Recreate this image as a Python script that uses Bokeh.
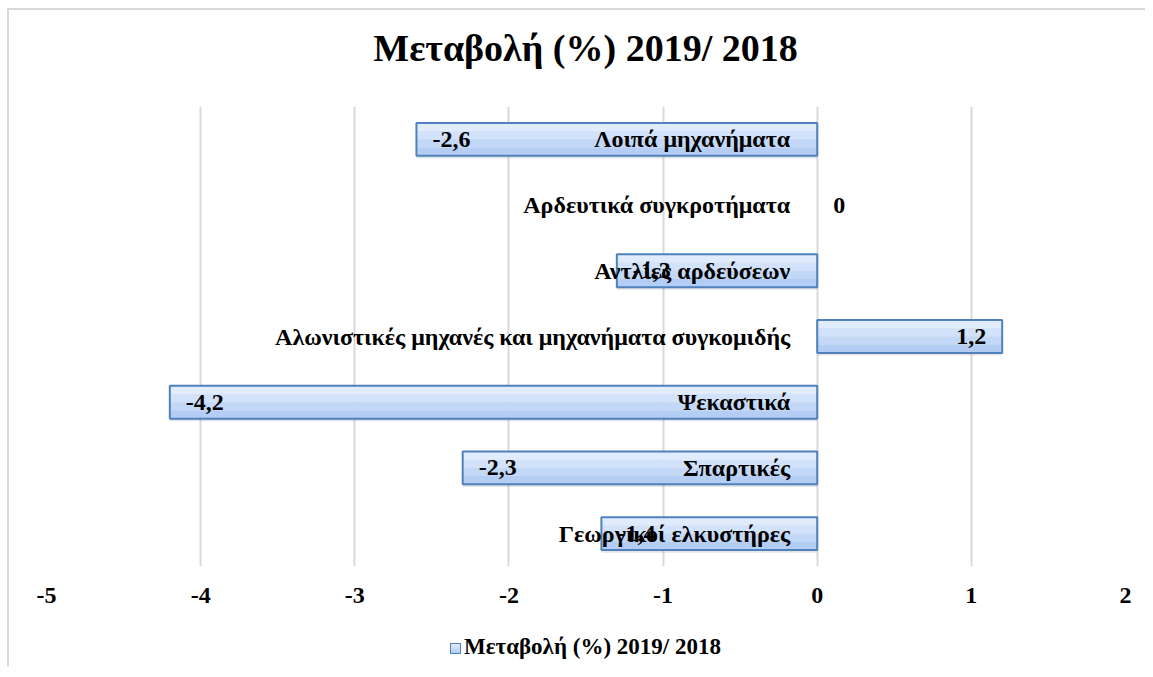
from bokeh.plotting import figure
from bokeh.layouts import column
from bokeh.models import Range1d, FactorRange, ColumnDataSource, FixedTicker, Div
from bokeh.core.properties import value
from bokeh.transform import dodge
from bokeh.embed import file_html
from bokeh.resources import INLINE

categories = ["Γεωργικοί ελκυστήρες", "Σπαρτικές", "Ψεκαστικά",
              "Αλωνιστικές μηχανές και μηχανήματα συγκομιδής",
              "Αντλίες αρδεύσεων", "Αρδευτικά συγκροτήματα", "Λοιπά μηχανήματα"]
values = [-1.4, -2.3, -4.2, 1.2, -1.3, 0.0, -2.6]
x_ticks = [-5, -4, -3, -2, -1, 0, 1, 2]
series_name = "Μεταβολή (%) 2019/ 2018"
title_text = "Μεταβολή (%) 2019/ 2018"

FONT = "Liberation Serif"

labels = [("%.1f" % v).replace(".", ",") if v != 0 else "0" for v in values]
lab_off = [16 if v <= 0 else -16 for v in values]
lab_align = ["left" if v <= 0 else "right" for v in values]
edge_alpha = [0.0 if v == 0 else 1.0 for v in values]

src = ColumnDataSource(dict(cat=categories, val=values, lab=labels,
                            off=lab_off, align=lab_align, ea=edge_alpha,
                            zero=[0] * len(values)))

title_div = Div(text=('<div style="margin-left:17px;width:1119px;padding-top:16px;'
                      'text-align:center;font-family:\'Liberation Serif\';font-size:38px;'
                      'font-weight:bold;line-height:44px;color:#000000;white-space:nowrap">'
                      + title_text + '</div>'),
                width=1136, height=66, margin=0)

p = figure(width=1136, height=550, output_backend="svg", toolbar_location=None,
           x_range=Range1d(-5, 2), y_range=FactorRange(*categories, range_padding=0),
           frame_width=1079, frame_height=460,
           min_border_left=37, min_border_right=20, min_border_top=30, min_border_bottom=60)

p.outline_line_color = None
p.ygrid.grid_line_color = None
p.xgrid.grid_line_color = "#d9d9d9"
p.xgrid.grid_line_width = 2
p.yaxis.visible = False

p.xaxis.ticker = FixedTicker(ticks=x_ticks)
p.xaxis.major_label_overrides = {t: str(t) for t in x_ticks}
p.xaxis.axis_line_color = None
p.xaxis.major_tick_line_color = None
p.xaxis.minor_tick_line_color = None
p.xaxis.major_label_text_font = FONT
p.xaxis.major_label_text_font_size = "24px"
p.xaxis.major_label_text_font_style = "bold"
p.xaxis.major_label_text_color = "#000000"
p.xaxis.major_label_standoff = 15

# shadow
p.hbar(y=dodge("cat", -0.04, range=p.y_range), left="zero", right="val", height=0.5,
       source=src, fill_color="#000000", fill_alpha=0.10, line_color=None)
# gradient strips
strip_cols = ["#e0ebfc", "#d2e2fa", "#c3d8f7", "#b3cdf4"]
for i, c in enumerate(strip_cols):
    p.hbar(y=dodge("cat", 0.1875 - i * 0.125, range=p.y_range), left="zero", right="val",
           height=0.126, source=src, fill_color=c, line_color=None)
p.hbar(y="cat", left="zero", right="val", height=0.5, source=src,
       fill_alpha=0.0, line_color="#4f81bd", line_alpha="ea", line_width=2)

p.text(x="zero", y="cat", text="cat", source=src, x_offset=-27,
       text_align="right", text_baseline="middle",
       text_font=value(FONT), text_font_size="24px", text_font_style="bold",
       text_color="#000000")
p.text(x="val", y="cat", text="lab", source=src, x_offset="off",
       text_align="align", text_baseline="middle",
       text_font=value(FONT), text_font_size="24px", text_font_style="bold",
       text_color="#000000")

legend_div = Div(text=('<div style="margin-left:17px;width:1119px;padding-top:10px;'
                       'text-align:center;font-family:\'Liberation Serif\';font-size:23px;'
                       'font-weight:bold;line-height:22px;color:#000000;white-space:nowrap">'
                       '<span style="display:inline-block;width:11px;height:11px;'
                       'background:linear-gradient(#e0ebfc,#b3cdf4);border:1px solid #4f81bd;'
                       'margin-right:3px;vertical-align:middle"></span>'
                       + series_name + '</div>'),
                 width=1136, height=40, margin=0)

layout = column(title_div, p, legend_div, spacing=0,
                styles={"margin-left": "7px", "margin-top": "8px",
                        "border-left": "2px solid #d9d9d9",
                        "border-top": "2px solid #d9d9d9"})

open("out.html", "w").write(file_html(layout, INLINE))
